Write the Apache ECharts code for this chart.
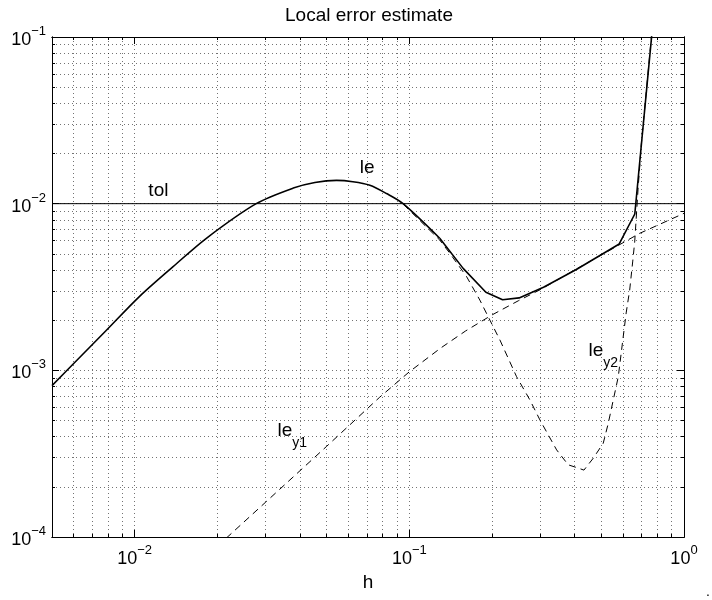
<!DOCTYPE html>
<html>
<head>
<meta charset="utf-8">
<title>Local error estimate</title>
<script src="https://cdn.jsdelivr.net/npm/echarts@6/dist/echarts.min.js"></script>
<style>
  html, body { margin: 0; padding: 0; background: #fff; }
  #main { width: 712px; height: 600px; }
</style>
</head>
<body>
<div id="main"></div>
<script>
// values (h on a log axis)
var leH = [0.005, 0.00596, 0.00789, 0.0104, 0.0138, 0.01824, 0.0277, 0.0378, 0.0453, 0.0543, 0.0623, 0.0718, 0.0826, 0.0949, 0.129, 0.157, 0.190, 0.2185, 0.251, 0.308, 0.407, 0.581, 0.662, 0.78];
var leV = [8.1e-4, 1.087e-3, 1.74e-3, 2.77e-3, 4.19e-3, 6.2e-3, 1.0e-2, 1.24e-2, 1.34e-2, 1.38e-2, 1.355e-2, 1.29e-2, 1.15e-2, 1.0e-2, 6.2e-3, 4.09e-3, 2.94e-3, 2.65e-3, 2.72e-3, 3.15e-3, 4.04e-3, 5.73e-3, 8.67e-3, 0.15];
var leSmoothEnd = 14; // the curve is smooth up to h = 0.129, a polyline after

var y1H = [0.02, 0.03, 0.05, 0.078, 0.1, 0.13, 0.16, 0.2, 0.25, 0.3, 0.4, 0.58, 0.69, 1.0];
var y1V = [8.8e-5, 1.62e-4, 3.5e-4, 6.9e-4, 9.8e-4, 1.36e-3, 1.72e-3, 2.15e-3, 2.62e-3, 3.05e-3, 4.0e-3, 5.65e-3, 6.64e-3, 8.75e-3];

// le_y2 lies under le for small h, only the visible part is kept
var y2H = [0.0949, 0.129, 0.1404, 0.1616, 0.1806, 0.1965, 0.2137, 0.2457, 0.2748, 0.2988, 0.3438, 0.379, 0.4064, 0.4322, 0.4673, 0.508, 0.530, 0.5527, 0.5764, 0.5957, 0.6158, 0.6342, 0.6503, 0.6614, 0.6801, 0.6996, 0.7609, 0.78];
var y2V = [9.95e-3, 6.05e-3, 5.04e-3, 3.65e-3, 2.64e-3, 2.0e-3, 1.52e-3, 9.16e-4, 6.64e-4, 5.04e-4, 3.33e-4, 2.71e-4, 2.61e-4, 2.52e-4, 2.97e-4, 3.65e-4, 4.81e-4, 6.64e-4, 9.16e-4, 1.42e-3, 2.21e-3, 3.03e-3, 4.47e-3, 5.89e-3, 1.21e-2, 2.3e-2, 0.1, 0.15];

var tolH = [0.005, 1];
var tolV = [0.01, 0.01];

// ticks
var xMajor = [0.01, 0.1, 1];
var xMajorExp = ['\u22122', '\u22121', '0'];
var xMinor = [0.006, 0.007, 0.008, 0.009, 0.02, 0.03, 0.04, 0.05, 0.06, 0.07, 0.08, 0.09, 0.2, 0.3, 0.4, 0.5, 0.6, 0.7, 0.8, 0.9];
var yMajor = [1e-4, 1e-3, 1e-2, 1e-1];
var yMajorExp = ['\u22124', '\u22123', '\u22122', '\u22121'];
var yMinor = [2e-4, 3e-4, 4e-4, 5e-4, 6e-4, 7e-4, 8e-4, 9e-4, 2e-3, 3e-3, 4e-3, 5e-3, 6e-3, 7e-3, 8e-3, 9e-3, 2e-2, 3e-2, 4e-2, 5e-2, 6e-2, 7e-2, 8e-2, 9e-2];

// curve labels
var labelMain = ['tol', 'le', 'le', 'le'];
var labelSub = ['', '', 'y1', 'y2'];
var labelH = [0.0122, 0.0702, 0.0375, 0.508];
var labelV = [0.0119, 0.0165, 4.04e-4, 1.224e-3];

var FONT = '"Liberation Sans", Arial, Helvetica, sans-serif';

function pairs(xs, ys) {
  return xs.map(function (x, i) { return [x, ys[i]]; });
}

function expLabel(list, exps) {
  return function (v) {
    for (var i = 0; i < list.length; i++) {
      if (Math.abs(Math.log10(v) - Math.log10(list[i])) < 1e-6) {
        return '{b|10}{e|' + exps[i] + '}';
      }
    }
    return '';
  };
}

var tickRich = {
  b: { fontSize: 18, lineHeight: 24, verticalAlign: 'bottom', fontFamily: FONT, color: '#000' },
  e: { fontSize: 13, lineHeight: 13, verticalAlign: 'top', fontFamily: FONT, color: '#000' }
};

var gridDots = { color: '#000', type: [1, 3], width: 1, opacity: 0.55 };
var frame = { color: '#000', width: 1 };

function xAx(pos, ticks, len, withGrid, withLabels) {
  return {
    type: 'log', min: 0.005, max: 1, position: pos,
    axisLine: { show: true, onZero: false, lineStyle: frame },
    axisTick: { show: true, inside: true, length: len, customValues: ticks, lineStyle: frame },
    splitLine: { show: withGrid, lineStyle: gridDots },
    axisLabel: withLabels ? {
      show: true, customValues: xMajor, margin: 7,
      formatter: expLabel(xMajor, xMajorExp), rich: tickRich
    } : { show: false }
  };
}

function yAx(pos, ticks, len, withGrid, withLabels) {
  return {
    type: 'log', min: 1e-4, max: 1e-1, position: pos,
    axisLine: { show: true, onZero: false, lineStyle: frame },
    axisTick: { show: true, inside: true, length: len, customValues: ticks, lineStyle: frame },
    splitLine: { show: withGrid, lineStyle: gridDots },
    axisLabel: withLabels ? {
      show: true, customValues: yMajor, margin: 6,
      formatter: expLabel(yMajor, yMajorExp), rich: tickRich
    } : { show: false }
  };
}

var xAxes = [
  xAx('bottom', xMinor.concat(xMajor), 3, true, false),
  xAx('bottom', xMajor, 7, false, true),
  xAx('top', xMinor, 3, false, false),
  xAx('top', xMajor, 7, false, false)
];
xAxes[1].name = 'h';
xAxes[1].nameLocation = 'middle';
xAxes[1].nameGap = 34;
xAxes[1].nameTextStyle = { fontSize: 19, fontFamily: FONT, color: '#000' };

var yAxes = [
  yAx('left', yMinor.concat(yMajor), 3, true, false),
  yAx('left', yMajor, 7, false, true),
  yAx('right', yMinor, 3, false, false),
  yAx('right', yMajor, 7, false, false)
];

var labelData = labelMain.map(function (m, i) {
  var txt = labelSub[i] ? '{m|' + m + '}{s|' + labelSub[i] + '}' : '{m|' + m + '}';
  return { coord: [labelH[i], labelV[i]], value: txt };
});

var solid = { color: '#000', width: 1.6 };
var dashed = { color: '#000', width: 1, type: [7, 5] };

var option = {
  animation: false,
  backgroundColor: '#fff',
  grid: { left: 52, right: 28, top: 37, bottom: 63, containLabel: false, outerBoundsMode: 'none' },
  graphic: [
    {
      type: 'text', x: 369, y: 16,
      style: { text: 'Local error estimate', align: 'center', verticalAlign: 'middle', font: '19px ' + FONT, fill: '#000' }
    },
    {
      type: 'text', x: 708, y: 592,
      style: { text: '.', align: 'center', verticalAlign: 'middle', font: '14px ' + FONT, fill: '#000' }
    }
  ],
  xAxis: xAxes,
  yAxis: yAxes,
  series: [
    {
      name: 'le_y1', type: 'line', data: pairs(y1H, y1V), showSymbol: false, symbol: 'none',
      lineStyle: dashed, z: 2, silent: true
    },
    {
      name: 'le_y2', type: 'line', data: pairs(y2H, y2V), showSymbol: false, symbol: 'none',
      lineStyle: dashed, z: 2, silent: true
    },
    {
      name: 'tol', type: 'line', data: pairs(tolH, tolV), showSymbol: false, symbol: 'none',
      lineStyle: { color: '#000', width: 1 }, z: 3, silent: true,
      markPoint: {
        symbolSize: 0, silent: true,
        label: {
          show: true, position: 'inside',
          formatter: function (p) { return p.data.value; },
          rich: {
            m: { fontSize: 19, lineHeight: 19, verticalAlign: 'top', fontFamily: FONT, color: '#000' },
            s: { fontSize: 14, lineHeight: 29, verticalAlign: 'bottom', fontFamily: FONT, color: '#000' }
          }
        },
        data: labelData
      }
    },
    {
      name: 'le', type: 'line', data: pairs(leH, leV).slice(0, leSmoothEnd + 1),
      smooth: 0.3, showSymbol: false, symbol: 'none',
      lineStyle: solid, z: 4, silent: true
    },
    {
      name: 'le', type: 'line', data: pairs(leH, leV).slice(leSmoothEnd),
      showSymbol: false, symbol: 'none',
      lineStyle: solid, z: 4, silent: true
    }
  ]
};

var chart = echarts.init(document.getElementById('main'));
chart.setOption(option);
</script>
</body>
</html>
